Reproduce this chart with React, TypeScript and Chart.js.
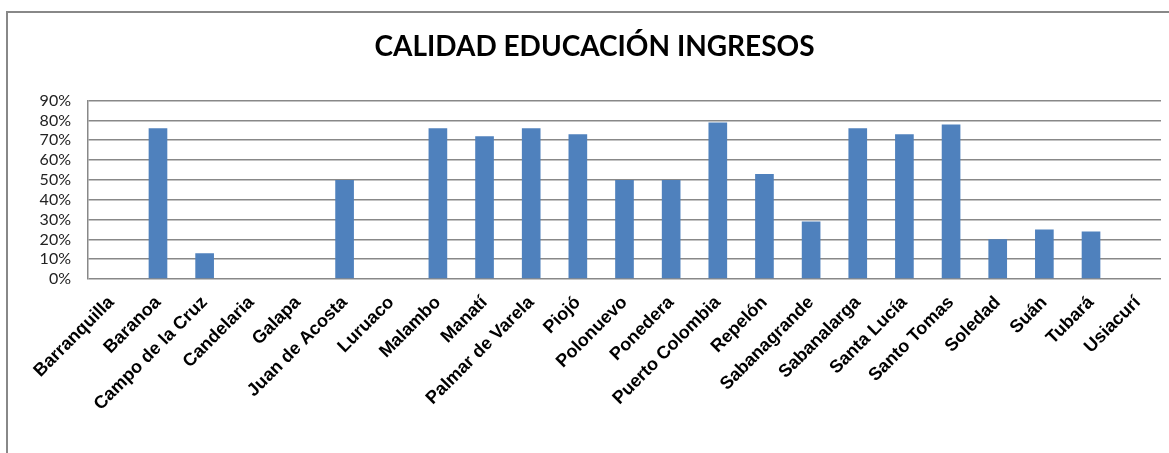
import React, { useEffect, useRef } from "react";
import { Chart, registerables } from "chart.js";

Chart.register(...registerables);

const categories: string[] = [
  "Barranquilla", "Baranoa", "Campo de la Cruz", "Candelaria", "Galapa",
  "Juan de Acosta", "Luruaco", "Malambo", "Manatí", "Palmar de Varela",
  "Piojó", "Polonuevo", "Ponedera", "Puerto Colombia", "Repelón",
  "Sabanagrande", "Sabanalarga", "Santa Lucía", "Santo Tomas", "Soledad",
  "Suán", "Tubará", "Usiacurí",
];

const values: number[] = [
  0, 0.76, 0.13, 0, 0,
  0.50, 0, 0.76, 0.72, 0.76,
  0.73, 0.50, 0.50, 0.79, 0.53,
  0.29, 0.76, 0.73, 0.78, 0.20,
  0.25, 0.24, 0,
];

const yTicks: number[] = [0, 0.1, 0.2, 0.3, 0.4, 0.5, 0.6, 0.7, 0.8, 0.9];

const title = "CALIDAD EDUCACIÓN INGRESOS";

export default function App() {
  const ref = useRef<HTMLCanvasElement | null>(null);

  useEffect(() => {
    if (!ref.current) return;
    const chart = new Chart(ref.current, {
      type: "bar",
      data: {
        labels: categories,
        datasets: [
          {
            data: values,
            backgroundColor: "#4F81BD",
            borderWidth: 0,
            barPercentage: 0.4,
            categoryPercentage: 1,
          },
        ],
      },
      options: {
        animation: false,
        responsive: false,
        maintainAspectRatio: false,
        layout: { padding: { left: 28, right: 8, top: 0, bottom: 0 } },
        plugins: {
          legend: { display: false },
          tooltip: { enabled: false },
          title: {
            display: true,
            text: title,
            color: "#000000",
            font: { family: "Lato", size: 28, weight: "bold" },
            padding: { top: 30, bottom: 37 },
          },
        },
        scales: {
          x: {
            grid: { display: false, drawTicks: false },
            border: { display: false },
            ticks: {
              color: "#000000",
              font: { family: "Liberation Sans", size: 18, weight: "bold" },
              maxRotation: 45,
              minRotation: 45,
              autoSkip: false,
              padding: 13,
            },
            afterFit: (scale: any) => {
              scale.height = 174;
            },
          },
          y: {
            min: 0,
            max: 0.9,
            afterBuildTicks: (scale: any) => {
              scale.ticks = yTicks.map((v) => ({ value: v }));
            },
            grid: {
              color: "#888888",
              lineWidth: 1.5,
              drawTicks: false,
            },
            border: { display: true, color: "#888888", width: 1.5 },
            ticks: {
              color: "#222222",
              font: { family: "Lato", size: 16 },
              padding: 17,
              autoSkip: false,
              stepSize: 0.1,
              callback: (v: any) => Math.round(Number(v) * 100) + "%",
            },
            afterFit: (scale: any) => {
              scale.width = 60;
            },
          },
        },
      },
    });
    return () => chart.destroy();
  }, []);

  return (
    <div
      style={{
        position: "fixed",
        left: 0,
        top: 0,
        width: 1169,
        height: 453,
        overflow: "hidden",
        background: "#ffffff",
      }}
    >
      <div
        style={{
          position: "absolute",
          left: 6,
          top: 11,
          width: 1300,
          height: 600,
          borderLeft: "2px solid #888888",
          borderTop: "2px solid #888888",
        }}
      />
      <canvas
        ref={ref}
        width={1169}
        height={453}
        style={{ position: "absolute", left: 0, top: 0, width: 1169, height: 453 }}
      />
    </div>
  );
}
